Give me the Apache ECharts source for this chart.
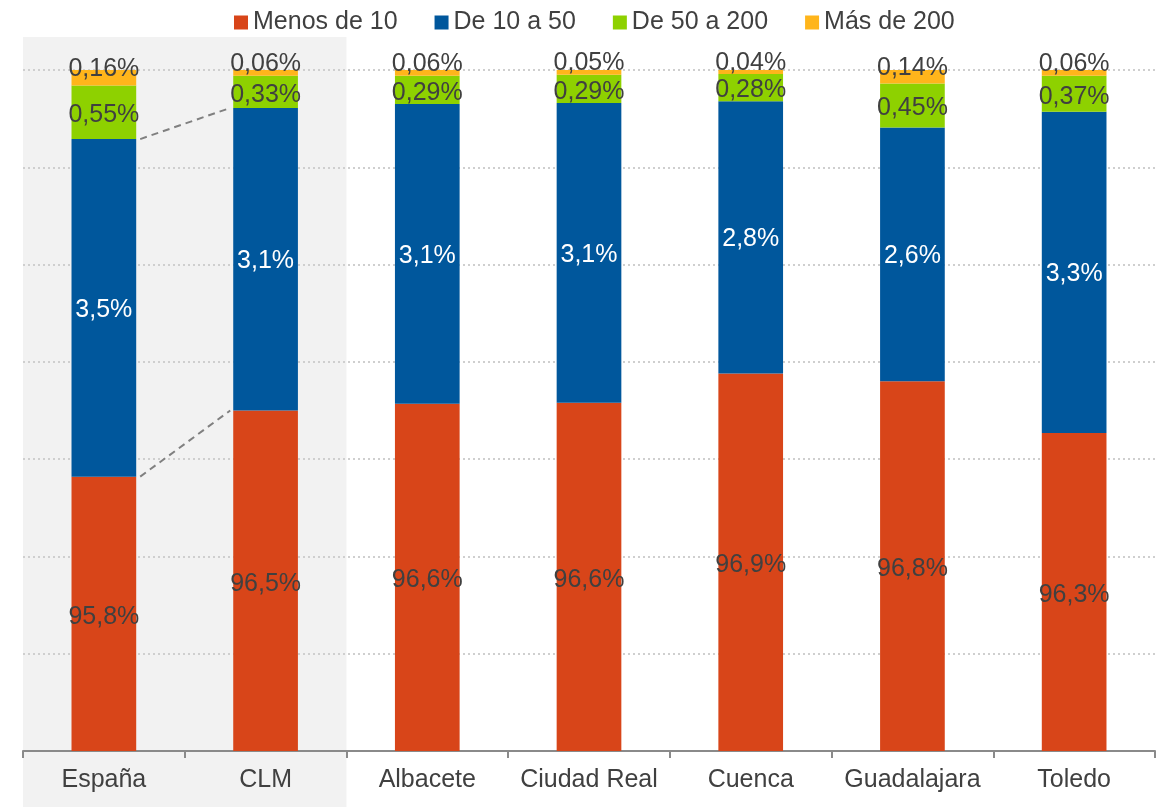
<!DOCTYPE html>
<html><head><meta charset="utf-8">
<script src="https://cdn.jsdelivr.net/npm/echarts@6/dist/echarts.min.js"></script>
<style>html,body{margin:0;padding:0;background:#fff}#c{width:1168px;height:807px}</style>
</head><body><div id="c"></div>
<script>
const categories = ['España', 'CLM', 'Albacete', 'Ciudad Real', 'Cuenca', 'Guadalajara', 'Toledo'];
const menos10  = [95.82, 96.50, 96.57, 96.58, 96.88, 96.80, 96.27];
const de10a50  = [3.47, 3.11, 3.08, 3.08, 2.80, 2.61, 3.30];
const de50a200 = [0.55, 0.33, 0.29, 0.29, 0.28, 0.45, 0.37];
const mas200   = [0.16, 0.06, 0.06, 0.05, 0.04, 0.14, 0.06];
const seriesNames = ['Menos de 10', 'De 10 a 50', 'De 50 a 200', 'Más de 200'];

const FONT = '"Liberation Sans", Arial, sans-serif';
const TXT = '#404040';
const fmt = d => p => p.value.toFixed(d).replace('.', ',') + '%';

const chart = echarts.init(document.getElementById('c'), null, {renderer: 'canvas'});

function barSeries(name, data, color, labelColor, decimals, offset) {
  return {
    name, type: 'bar', stack: 'total', data, barWidth: '40%',
    itemStyle: {color},
    label: {show: true, position: 'inside', offset, color: labelColor,
      fontSize: 25, fontFamily: FONT, formatter: fmt(decimals)}
  };
}

chart.setOption({
  animation: false,
  textStyle: {fontFamily: FONT},
  legend: {
    left: 229, top: 5, itemWidth: 14, itemHeight: 14, itemGap: 37, icon: 'rect',
    textStyle: {fontSize: 25, color: TXT, fontFamily: FONT},
    data: seriesNames
  },
  grid: {left: 23, right: 13, top: 70, bottom: 56, containLabel: false},
  xAxis: {
    type: 'category', data: categories,
    axisLine: {lineStyle: {color: '#8a8a8a', width: 2}},
    axisTick: {show: true, length: 7, lineStyle: {color: '#8a8a8a', width: 2}},
    axisLabel: {fontSize: 25, color: TXT, fontFamily: FONT, margin: 17, interval: 0}
  },
  yAxis: {
    type: 'value', min: 93, max: 100, interval: 1,
    axisLabel: {show: false}, axisLine: {show: false}, axisTick: {show: false},
    splitLine: {lineStyle: {color: '#cfcfcf', type: [2, 3], width: 2}}
  },
  series: [
    barSeries(seriesNames[0], menos10, '#D84519', TXT, 1, [0, 3]),
    barSeries(seriesNames[1], de10a50, '#00579C', '#ffffff', 1, [0, 2]),
    barSeries(seriesNames[2], de50a200, '#8ED100', TXT, 2, [0, 3]),
    barSeries(seriesNames[3], mas200, '#FFB51B', TXT, 2, [0, -9])
  ]
});

function overlay() {
  const conv = (i, v) => chart.convertToPixel({xAxisIndex: 0, yAxisIndex: 0}, [i, v]);
  const p0 = conv(0, 100), p1 = conv(1, 100);
  const band = p1[0] - p0[0];
  const left = p0[0] - band / 2, right = p1[0] + band / 2;
  const half = band * 0.4 / 2;
  const top = p0[1] - 33;
  const els = [{
    type: 'rect', z: -10, silent: true,
    shape: {x: left, y: top, width: right - left, height: 807 - top},
    style: {fill: '#f2f2f2'}
  }];
  const cum = i => [menos10[i], menos10[i] + de10a50[i]];
  const a = cum(0), b = cum(1);
  for (let k = 0; k < 2; k++) {
    const s = conv(0, a[k]), e = conv(1, b[k]);
    els.push({
      type: 'line', z: 100, silent: true,
      shape: {x1: s[0] + half + 4, y1: s[1], x2: e[0] - half - 3, y2: e[1]},
      style: {stroke: '#808080', lineWidth: 2, lineDash: [7, 5]}
    });
  }
  chart.setOption({graphic: els});
}
overlay();
</script>
</body></html>
